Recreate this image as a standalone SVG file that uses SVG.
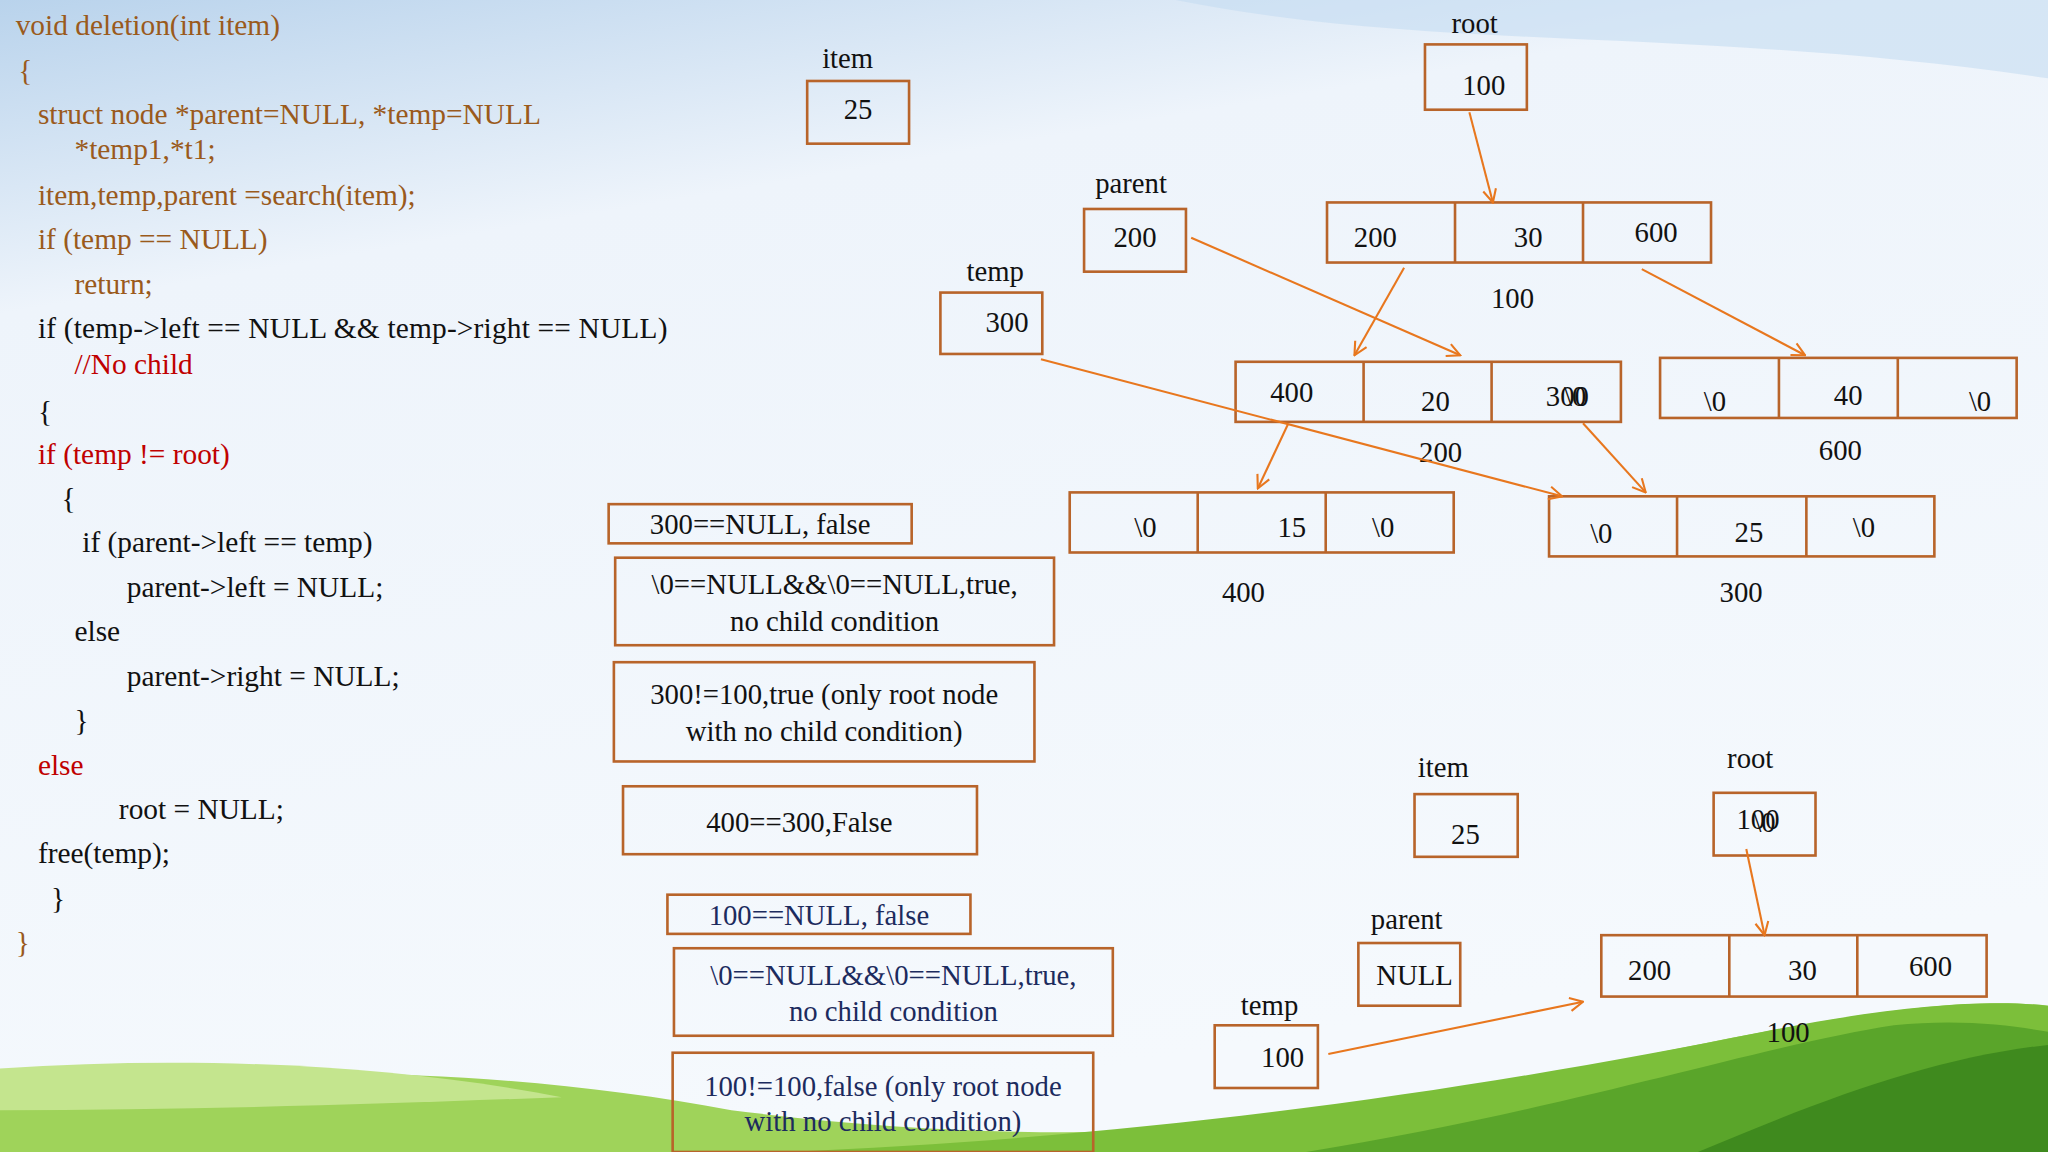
<svg xmlns="http://www.w3.org/2000/svg" width="2048" height="1152" viewBox="0 0 2048 1152">
<defs>
<linearGradient id="sky" x1="0" y1="0" x2="0.3" y2="1">
<stop offset="0" stop-color="#b9d3ec"/><stop offset="0.25" stop-color="#eef4fb"/><stop offset="1" stop-color="#f5f9fd"/>
</linearGradient>
<marker id="ah" viewBox="0 0 12 12" refX="11" refY="6" markerWidth="12" markerHeight="12" markerUnits="userSpaceOnUse" orient="auto">
<path d="M1,1 L11,6 L1,11" fill="none" stroke="#e8771e" stroke-width="1.6"/>
</marker>
<style>
text{font-family:"Liberation Serif","Times New Roman",serif;font-size:22px;fill:#111}
.k{font-size:22.5px}
.c{text-anchor:middle}
.br{fill:#9a5a1c}.rd{fill:#c00000}.nv{fill:#1c2b5e}
rect{fill:none;stroke:#b8642a;stroke-width:2}
line.d{stroke:#b8642a;stroke-width:2}
.ar{stroke:#e8771e;stroke-width:1.6;fill:none;marker-end:url(#ah)}
</style>
</defs>
<rect x="0" y="0" width="2048" height="1152" style="fill:url(#sky);stroke:none"/>
<g transform="scale(1.30612)">
<path d="M900,0 C1100,40 1300,20 1568,60 L1568,0 Z" fill="#c5dcf1" opacity="0.6"/>
<path d="M0,840 C200,810 400,820 560,850 C800,880 1000,870 1200,820 C1350,790 1480,760 1568,770 L1568,882 L0,882 Z" fill="#9fd35a"/>
<path d="M600,882 C900,870 1150,830 1350,790 C1450,770 1520,765 1568,770 L1568,882 Z" fill="#7cbf3a"/>
<path d="M1000,882 C1200,850 1350,800 1450,785 C1500,780 1540,785 1568,790 L1568,882 Z" fill="#5aa52a"/>
<path d="M1300,882 C1400,840 1480,810 1568,800 L1568,882 Z" fill="#3f8a1e"/>
<path d="M0,818 C150,808 300,815 430,840 C300,845 150,850 0,850 Z" fill="#c4e58e"/>

<g id="code" class="k">
<text x="12" y="27" class="br k">void deletion(int item)</text>
<text x="14" y="61" class="br k">{</text>
<text x="29" y="95" class="br k">struct node *parent=NULL, *temp=NULL</text>
<text x="57" y="122" class="br k">*temp1,*t1;</text>
<text x="29" y="157" class="br k">item,temp,parent =search(item);</text>
<text x="29" y="191" class="br k">if (temp == NULL)</text>
<text x="57" y="225" class="br k">return;</text>
<text x="29" y="259" class="k" textLength="482">if (temp-&gt;left == NULL &amp;&amp; temp-&gt;right == NULL)</text>
<text x="57" y="286" class="rd k">//No child</text>
<text x="29" y="322" class="k">{</text>
<text x="29" y="355" class="rd k">if (temp != root)</text>
<text x="47" y="389" class="k">{</text>
<text x="63" y="423" class="k">if (parent-&gt;left == temp)</text>
<text x="97" y="457" class="k">parent-&gt;left = NULL;</text>
<text x="57" y="491" class="k">else</text>
<text x="97" y="525" class="k">parent-&gt;right = NULL;</text>
<text x="57" y="559" class="k">}</text>
<text x="29" y="593" class="rd k">else</text>
<text x="91" y="627" class="k">root = NULL;</text>
<text x="29" y="661" class="k">free(temp);</text>
<text x="39" y="695" class="k">}</text>
<text x="12" y="729" class="br k">}</text>
</g>

<g id="item1"><text x="649" y="52" class="c">item</text><rect x="618" y="62" width="78" height="48"/><text x="657" y="91" class="c">25</text></g>
<g id="root1"><text x="1129" y="25" class="c">root</text><rect x="1091" y="34" width="78" height="50"/><text x="1136" y="73" class="c">100</text></g>
<g id="parent1"><text x="866" y="148" class="c">parent</text><rect x="830" y="160" width="78" height="48"/><text x="869" y="189" class="c">200</text></g>
<g id="temp1"><text x="762" y="215" class="c">temp</text><rect x="720" y="224" width="78" height="47"/><text x="771" y="254" class="c">300</text></g>

<g id="n100"><rect x="1016" y="155" width="294" height="46"/><line class="d" x1="1114" y1="155" x2="1114" y2="201"/><line class="d" x1="1212" y1="155" x2="1212" y2="201"/>
<text x="1053" y="189" class="c">200</text><text x="1170" y="189" class="c">30</text><text x="1268" y="185" class="c">600</text><text x="1158" y="236" class="c">100</text></g>
<g id="n200"><rect x="946" y="277" width="295" height="46"/><line class="d" x1="1044" y1="277" x2="1044" y2="323"/><line class="d" x1="1142" y1="277" x2="1142" y2="323"/>
<text x="989" y="308" class="c">400</text><text x="1099" y="315" class="c">20</text><text x="1200" y="311" class="c">300</text><text x="1206" y="311" class="c">\0</text><text x="1103" y="354" class="c">200</text></g>
<g id="n600"><rect x="1271" y="274" width="273" height="46"/><line class="d" x1="1362" y1="274" x2="1362" y2="320"/><line class="d" x1="1453" y1="274" x2="1453" y2="320"/>
<text x="1313" y="315" class="c">\0</text><text x="1415" y="310" class="c">40</text><text x="1516" y="315" class="c">\0</text><text x="1409" y="352" class="c">600</text></g>
<g id="n400"><rect x="819" y="377" width="294" height="46"/><line class="d" x1="917" y1="377" x2="917" y2="423"/><line class="d" x1="1015" y1="377" x2="1015" y2="423"/>
<text x="877" y="411" class="c">\0</text><text x="989" y="411" class="c">15</text><text x="1059" y="411" class="c">\0</text><text x="952" y="461" class="c">400</text></g>
<g id="n300"><rect x="1186" y="380" width="295" height="46"/><line class="d" x1="1284" y1="380" x2="1284" y2="426"/><line class="d" x1="1383" y1="380" x2="1383" y2="426"/>
<text x="1226" y="416" class="c">\0</text><text x="1339" y="415" class="c">25</text><text x="1427" y="411" class="c">\0</text><text x="1333" y="461" class="c">300</text></g>

<g id="b1"><rect x="466" y="386" width="232" height="30"/><text x="582" y="409" class="c">300==NULL, false</text></g>
<g id="b2"><rect x="471" y="427" width="336" height="67"/><text x="639" y="455" class="c">\0==NULL&amp;&amp;\0==NULL,true,</text><text x="639" y="483" class="c">no child condition</text></g>
<g id="b3"><rect x="470" y="507" width="322" height="76"/><text x="631" y="539" class="c">300!=100,true (only root node</text><text x="631" y="567" class="c">with no child condition)</text></g>
<g id="b4"><rect x="477" y="602" width="271" height="52"/><text x="612" y="637" class="c">400==300,False</text></g>
<g id="b5"><rect x="511" y="685" width="232" height="30"/><text x="627" y="708" class="c nv">100==NULL, false</text></g>
<g id="b6"><rect x="516" y="726" width="336" height="67"/><text x="684" y="754" class="c nv">\0==NULL&amp;&amp;\0==NULL,true,</text><text x="684" y="782" class="c nv">no child condition</text></g>
<g id="b7"><rect x="515" y="806" width="322" height="76"/><text x="676" y="839" class="c nv">100!=100,false (only root node</text><text x="676" y="866" class="c nv">with no child condition)</text></g>

<g id="item2"><text x="1105" y="595" class="c">item</text><rect x="1083" y="608" width="79" height="48"/><text x="1122" y="646" class="c">25</text></g>
<g id="root2"><text x="1340" y="588" class="c">root</text><rect x="1312" y="607" width="78" height="48"/><text x="1346" y="635" class="c">100</text><text x="1351" y="637" class="c">\0</text></g>
<g id="parent2"><text x="1077" y="711" class="c">parent</text><rect x="1040" y="722" width="78" height="48"/><text x="1083" y="754" class="c">NULL</text></g>
<g id="temp2"><text x="972" y="777" class="c">temp</text><rect x="930" y="785" width="79" height="48"/><text x="982" y="817" class="c">100</text></g>
<g id="n100b"><rect x="1226" y="716" width="295" height="47"/><line class="d" x1="1324" y1="716" x2="1324" y2="763"/><line class="d" x1="1422" y1="716" x2="1422" y2="763"/>
<text x="1263" y="750" class="c">200</text><text x="1380" y="750" class="c">30</text><text x="1478" y="747" class="c">600</text><text x="1369" y="798" class="c">100</text></g>

<g id="connectors">
<line class="ar" x1="1125" y1="86" x2="1143" y2="155"/>
<line class="ar" x1="912" y1="182" x2="1118" y2="272"/>
<line class="ar" x1="1075" y1="205" x2="1037" y2="272"/>
<line class="ar" x1="1257" y1="206" x2="1382" y2="272"/>
<line class="ar" x1="797" y1="275" x2="1196" y2="380"/>
<line class="ar" x1="986" y1="325" x2="963" y2="374"/>
<line class="ar" x1="1212" y1="324" x2="1260" y2="377"/>
<line class="ar" x1="1337" y1="650" x2="1351" y2="716"/>
<line class="ar" x1="1017" y1="807" x2="1212" y2="767"/>
</g>
</g>
</svg>
